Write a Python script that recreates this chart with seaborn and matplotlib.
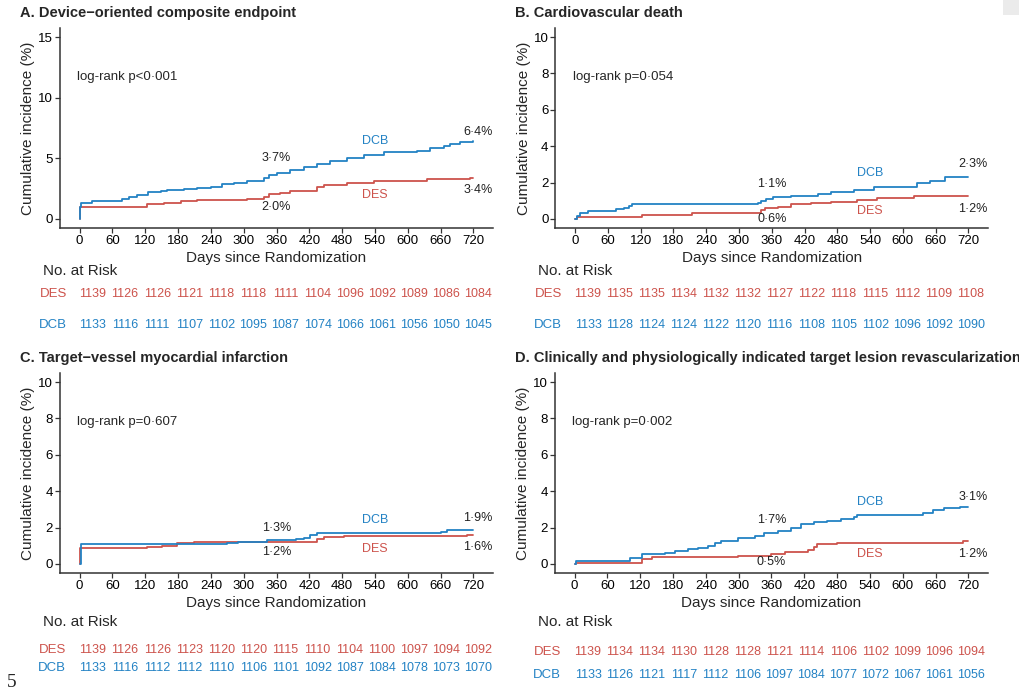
import numpy as np
import pandas as pd
import matplotlib
matplotlib.use("Agg")
import matplotlib.pyplot as plt
import matplotlib.transforms as mtransforms
from matplotlib.patches import Rectangle
import seaborn as sns

sns.set_theme(style="ticks")
plt.rcParams['font.family'] = ['Liberation Sans', 'DejaVu Sans']

# --- Data (step knots: day, cumulative incidence %) ---
arms = ["DES", "DCB"]
risk_days = [0, 60, 120, 180, 240, 300, 360, 420, 480, 540, 600, 660, 720]

A_des_day = [0, 1, 124, 154, 185, 215, 306, 337, 346, 367, 385, 434, 447, 489, 538, 635, 714, 720]
A_des_inc = [0, 0.95, 1.25, 1.35, 1.48, 1.6, 1.65, 1.8, 2.05, 2.15, 2.3, 2.65, 2.8, 3.0, 3.15, 3.3, 3.4, 3.4]
A_dcb_day = [0, 1, 3, 23, 78, 90, 105, 125, 148, 160, 190, 215, 240, 260, 282, 306, 337, 346, 361,
             385, 410, 434, 458, 489, 520, 556, 617, 641, 666, 678, 696, 720]
A_dcb_inc = [0, 1.0, 1.3, 1.5, 1.65, 1.8, 1.95, 2.2, 2.3, 2.35, 2.45, 2.55, 2.65, 2.85, 3.0, 3.15, 3.35, 3.6, 3.8,
             4.0, 4.25, 4.5, 4.8, 5.0, 5.3, 5.55, 5.6, 5.85, 6.0, 6.2, 6.35, 6.4]

B_des_day = [0, 3, 14, 123, 214, 341, 347, 371, 396, 432, 468, 517, 553, 620, 720]
B_des_inc = [0, 0.09, 0.13, 0.2, 0.3, 0.5, 0.6, 0.68, 0.8, 0.86, 0.95, 1.04, 1.13, 1.24, 1.24]
B_dcb_day = [0, 3, 8, 23, 75, 90, 99, 105, 335, 341, 350, 362, 396, 444, 468, 511, 547, 626, 650, 677, 720]
B_dcb_inc = [0, 0.16, 0.3, 0.45, 0.53, 0.62, 0.73, 0.8, 0.9, 1.0, 1.1, 1.2, 1.28, 1.38, 1.5, 1.6, 1.75,
             1.95, 2.1, 2.3, 2.3]

C_des_day = [0, 1, 124, 150, 178, 209, 434, 447, 483, 708, 720]
C_des_inc = [0, 0.86, 0.95, 1.0, 1.13, 1.22, 1.35, 1.46, 1.54, 1.6, 1.6]
C_dcb_day = [0, 3, 270, 290, 343, 395, 410, 422, 434, 660, 672, 720]
C_dcb_inc = [0, 1.08, 1.13, 1.22, 1.3, 1.35, 1.45, 1.57, 1.70, 1.77, 1.86, 1.86]

D_des_day = [0, 3, 123, 142, 299, 359, 384, 426, 438, 444, 480, 711, 720]
D_des_inc = [0, 0.07, 0.27, 0.37, 0.46, 0.53, 0.64, 0.77, 0.91, 1.08, 1.17, 1.24, 1.24]
D_dcb_day = [0, 3, 102, 123, 165, 184, 208, 226, 244, 256, 268, 299, 329, 347, 372, 396, 414,
             438, 462, 487, 511, 517, 638, 656, 675, 705, 720]
D_dcb_inc = [0, 0.18, 0.3, 0.53, 0.62, 0.71, 0.8, 0.9, 1.0, 1.13, 1.26, 1.4, 1.54, 1.7, 1.83, 2.0, 2.18,
             2.28, 2.38, 2.45, 2.6, 2.69, 2.8, 2.96, 3.09, 3.14, 3.14]

A_risk_des = [1139, 1126, 1126, 1121, 1118, 1118, 1111, 1104, 1096, 1092, 1089, 1086, 1084]
A_risk_dcb = [1133, 1116, 1111, 1107, 1102, 1095, 1087, 1074, 1066, 1061, 1056, 1050, 1045]
B_risk_des = [1139, 1135, 1135, 1134, 1132, 1132, 1127, 1122, 1118, 1115, 1112, 1109, 1108]
B_risk_dcb = [1133, 1128, 1124, 1124, 1122, 1120, 1116, 1108, 1105, 1102, 1096, 1092, 1090]
C_risk_des = [1139, 1126, 1126, 1123, 1120, 1120, 1115, 1110, 1104, 1100, 1097, 1094, 1092]
C_risk_dcb = [1133, 1116, 1112, 1112, 1110, 1106, 1101, 1092, 1087, 1084, 1078, 1073, 1070]
D_risk_des = [1139, 1134, 1134, 1130, 1128, 1128, 1121, 1114, 1106, 1102, 1099, 1096, 1094]
D_risk_dcb = [1133, 1126, 1121, 1117, 1112, 1106, 1097, 1084, 1077, 1072, 1067, 1061, 1056]

titles = ["A. Device\u2212oriented composite endpoint",
          "B. Cardiovascular death",
          "C. Target\u2212vessel myocardial infarction",
          "D. Clinically and physiologically indicated target lesion revascularization"]
pvalues = ["log-rank p<0\u00b7001", "log-rank p=0\u00b7054", "log-rank p=0\u00b7607", "log-rank p=0\u00b7002"]
# (text at 360 days DCB, DES), (text at 720 days DCB, DES)
pct360 = [("3\u00b77%", "2\u00b70%"), ("1\u00b71%", "0\u00b76%"), ("1\u00b73%", "1\u00b72%"), ("1\u00b77%", "0\u00b75%")]
pct720 = [("6\u00b74%", "3\u00b74%"), ("2\u00b73%", "1\u00b72%"), ("1\u00b79%", "1\u00b76%"), ("3\u00b71%", "1\u00b72%")]

RED = "#CD534C"
BLUE = "#2382C4"
palette = {"DES": RED, "DCB": BLUE}

W, H = 1020, 689


def fx(px):
    return px / W


def fy(px):
    return 1 - px / H


fig = plt.figure(figsize=(W / 100, H / 100), dpi=100)

# panel layout in pixels: plot (left, right, top, bottom), risk table
panels = [
    dict(curves=(A_des_day, A_des_inc, A_dcb_day, A_dcb_inc), risk=(A_risk_des, A_risk_dcb),
         box=(60, 493, 28, 228), ymax=15, yticks=[0, 5, 10, 15],
         ann=dict(p=11.7, u360=5.0, l360=1.0, dcb=6.4, des=2.0, u720=7.2, l720=2.4),
         tab=dict(x0=93, x1=478, rows=(294, 325), lab=67, nar=(43, 271))),
    dict(curves=(B_des_day, B_des_inc, B_dcb_day, B_dcb_inc), risk=(B_risk_des, B_risk_dcb),
         box=(555.5, 988, 28, 228), ymax=10, yticks=[0, 2, 4, 6, 8, 10],
         ann=dict(p=7.8, u360=1.92, l360=0.0, dcb=2.5, des=0.45, u720=3.0, l720=0.53),
         tab=dict(x0=588, x1=971, rows=(294, 325), lab=562, nar=(538, 271))),
    dict(curves=(C_des_day, C_des_inc, C_dcb_day, C_dcb_inc), risk=(C_risk_des, C_risk_dcb),
         box=(60, 493, 373, 573), ymax=10, yticks=[0, 2, 4, 6, 8, 10],
         ann=dict(p=7.8, u360=1.97, l360=0.66, dcb=2.4, des=0.82, u720=2.5, l720=0.93),
         tab=dict(x0=93, x1=478, rows=(650, 668), lab=66, nar=(43, 622))),
    dict(curves=(D_des_day, D_des_inc, D_dcb_day, D_dcb_inc), risk=(D_risk_des, D_risk_dcb),
         box=(555, 988, 373, 573), ymax=10, yticks=[0, 2, 4, 6, 8, 10],
         ann=dict(p=7.8, u360=2.4, l360=0.1, dcb=3.4, des=0.55, u720=3.7, l720=0.55),
         tab=dict(x0=588, x1=971, rows=(652, 675), lab=561, nar=(538, 622))),
]

for i, pnl in enumerate(panels):
    l, r, t, b = pnl["box"]
    ax = fig.add_axes([fx(l), fy(b), fx(r - l), (b - t) / H])
    des_d, des_v, dcb_d, dcb_v = pnl["curves"]
    df = pd.DataFrame({
        "day": list(des_d) + list(dcb_d),
        "inc": list(des_v) + list(dcb_v),
        "arm": ["DES"] * len(des_d) + ["DCB"] * len(dcb_d),
    })
    sns.lineplot(data=df, x="day", y="inc", hue="arm", palette=palette, estimator=None,
                 drawstyle="steps-post", linewidth=1.3, legend=False, ax=ax)
    ymax = pnl["ymax"]
    ax.set_xlim(-36, 756)
    ax.set_ylim(-0.05 * ymax, 1.05 * ymax)
    ax.set_xticks(risk_days)
    ax.set_yticks(pnl["yticks"])
    ax.tick_params(axis="both", labelsize=9.5, colors="#333333", labelcolor="black",
                   length=3.5, width=0.9, pad=1.5)
    for s in ["top", "right"]:
        ax.spines[s].set_visible(False)
    for s in ["left", "bottom"]:
        ax.spines[s].set_color("#333333")
        ax.spines[s].set_linewidth(1.1)
    ax.set_xlabel("Days since Randomization", fontsize=11, labelpad=3)
    ax.set_ylabel("Cumulative incidence (%)", fontsize=11, labelpad=2)

    a = pnl["ann"]
    ax.text(-4, a["p"], pvalues[i], fontsize=9.5, ha="left", va="center")
    ax.text(360, a["u360"], pct360[i][0], fontsize=9, ha="center", va="center", color="#222222")
    ax.text(360, a["l360"], pct360[i][1], fontsize=9, ha="center", va="center", color="#222222")
    ax.text(540, a["dcb"], "DCB", fontsize=9, ha="center", va="center", color=BLUE)
    ax.text(540, a["des"], "DES", fontsize=9, ha="center", va="center", color=RED)
    ax.text(728, a["u720"], pct720[i][0], fontsize=9, ha="center", va="center", color="#222222")
    ax.text(728, a["l720"], pct720[i][1], fontsize=9, ha="center", va="center", color="#222222")

    fig.text(fx(l - 40), fy(t - 15), titles[i], fontsize=10.5, fontweight="bold", ha="left", va="center")

    # risk table
    tb = pnl["tab"]
    scale = (tb["x1"] - tb["x0"]) / 720.0
    tl = tb["x0"] - 36 * scale
    tax = fig.add_axes([fx(tl), 0, fx(792 * scale), 0.01])
    tax.set_xlim(-36, 756)
    tax.axis("off")
    trans = mtransforms.blended_transform_factory(tax.transData, fig.transFigure)
    for row_y, counts, arm in zip(tb["rows"], pnl["risk"], arms):
        for d, n in zip(risk_days, counts):
            tax.text(d, fy(row_y), str(n), transform=trans, fontsize=9,
                     ha="center", va="center", color=palette[arm])
        fig.text(fx(tb["lab"]), fy(row_y), arm, fontsize=9.5, ha="right", va="center", color=palette[arm])
    fig.text(fx(tb["nar"][0]), fy(tb["nar"][1]), "No. at Risk", fontsize=11, ha="left", va="center")

# page number and scanner artefact
fig.text(fx(7), fy(674), "5", fontsize=14, family="Liberation Serif", ha="left", va="top")
fig.patches.append(Rectangle((fx(1003), fy(15)), fx(17), 15 / H, transform=fig.transFigure,
                             facecolor="#EBEBEB", edgecolor="none"))

fig.savefig("out.png", dpi=100)
